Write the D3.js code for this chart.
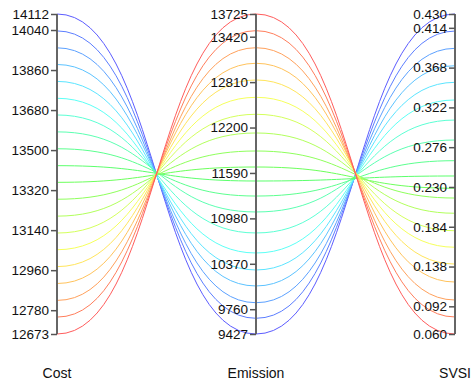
<!DOCTYPE html>
<html>
<head>
<meta charset="utf-8">
<script src="https://cdn.jsdelivr.net/npm/d3@7"></script>
<style>
  html, body { margin: 0; padding: 0; background: #fff; }
  svg { display: block; font-family: "Liberation Sans", Arial, sans-serif; }
</style>
</head>
<body>
<svg id="chart" width="472" height="381"></svg>
<script>
// ---- data ----
const dimensions = ["Cost", "Emission", "SVSI"];
const costValues = [14112, 14036, 13960, 13885, 13809, 13733, 13658, 13582, 13506, 13430,
                    13355, 13279, 13203, 13127, 13052, 12976, 12900, 12824, 12749, 12673];
const emissionValues = [9427, 9638, 9847, 10072, 10287, 10515, 10784, 11066, 11280, 11482,
                        11670, 11885, 12127, 12378, 12606, 12839, 13063, 13272, 13501, 13725];
const svsiValues = [0.430, 0.4103, 0.3903, 0.3702, 0.3510, 0.3306, 0.3074, 0.2843, 0.2604, 0.2427,
                    0.2285, 0.2172, 0.1996, 0.1794, 0.1603, 0.1409, 0.1201, 0.0993, 0.0797, 0.060];
const costTicks = [14112, 14040, 13860, 13680, 13500, 13320, 13140, 12960, 12780, 12673];
const emissionTicks = [13725, 13420, 12810, 12200, 11590, 10980, 10370, 9760, 9427];
const svsiTicks = [0.430, 0.414, 0.368, 0.322, 0.276, 0.230, 0.184, 0.138, 0.092, 0.060];

// ---- layout ----
const svg = d3.select("#chart");
const yTop = 14, yBottom = 334;
const x = d3.scalePoint().domain(dimensions).range([57, 455]);

const y = {
  Cost: d3.scaleLinear().domain([12673, 14112]).range([yBottom, yTop]),
  Emission: d3.scaleLinear().domain([9427, 13725]).range([yBottom, yTop]),
  SVSI: d3.scaleLinear().domain([0.060, 0.430]).range([yBottom, yTop])
};
const ticks = { Cost: costTicks, Emission: emissionTicks, SVSI: svsiTicks };
const fmt = { Cost: d3.format("d"), Emission: d3.format("d"), SVSI: d3.format(".3f") };

const rows = costValues.map((c, i) => ({ Cost: c, Emission: emissionValues[i], SVSI: svsiValues[i] }));
const n = rows.length;
const hue = d3.scaleLinear().domain([0, n - 1]).range([240, 0]);

const line = d3.line()
  .x(d => d[0]).y(d => d[1])
  .curve(d3.curveBumpX);

svg.append("g").selectAll("path")
  .data(rows)
  .join("path")
  .attr("fill", "none")
  .attr("stroke", (d, i) => d3.hsl(hue(i), 1, 0.68).formatHex())
  .attr("stroke-width", 1)
  .attr("d", d => line(dimensions.map(k => [x(k), y[k](d[k])])));

// axes
dimensions.forEach(k => {
  const g = svg.append("g").attr("transform", `translate(${x(k)},0)`);
  const ax = d3.axisLeft(y[k]).tickValues(ticks[k]).tickFormat(fmt[k]).tickSize(6).tickPadding(2);
  g.call(ax);
  g.select(".domain").attr("stroke", "#666").attr("stroke-width", 2)
    .attr("d", `M0,${yTop}V${yBottom}`);
  g.selectAll(".tick line").attr("stroke", "#555").attr("stroke-width", 1.5);
  g.selectAll(".tick text").attr("fill", "#111").style("font-size", "13.5px")
    .style("font-family", "'Liberation Sans', Arial, sans-serif");
  svg.append("text")
    .attr("x", x(k))
    .attr("y", 378)
    .attr("text-anchor", "middle")
    .attr("fill", "#111")
    .style("font-size", "14px")
    .text(k);
});
</script>
</body>
</html>
